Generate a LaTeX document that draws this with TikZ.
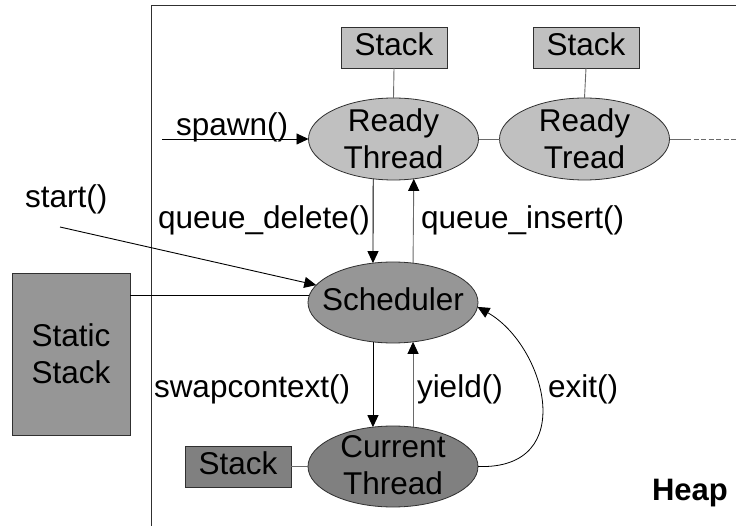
\documentclass[tikz,border=0pt]{standalone}
\usepackage{fontspec}
\setmainfont{Liberation Sans}
\usetikzlibrary{arrows.meta,shapes.geometric}
\definecolor{lightg}{HTML}{C0C0C0}
\definecolor{midg}{HTML}{969696}
\definecolor{darkg}{HTML}{808080}
\definecolor{edgeg}{HTML}{303030}
\definecolor{lineg}{HTML}{6A6A6A}
\begin{document}
\begin{tikzpicture}[x=1pt,y=-1pt,
  every node/.style={font=\fontsize{31.5}{37}\selectfont, inner sep=0pt, outer sep=0pt},
  thread/.style={ellipse, draw=edgeg, line width=0.8pt, minimum width=170pt, minimum height=82pt},
  stackbox/.style={rectangle, draw=edgeg, line width=0.8pt, minimum width=106pt, minimum height=41pt, text depth=6.5pt},
  lbl/.style={anchor=base west},
  arr/.style={-{Triangle[length=12pt,width=11pt,black]}, line width=0.9pt},
  conn/.style={draw=lineg, line width=0.9pt}]
\useasboundingbox (0,0) rectangle (736,526);
\fill[white] (0,0) rectangle (736,526);
% heap frame
\coordinate (hb) at (151.5,526);
\coordinate (htl) at (151.5,5);
\coordinate (htr) at (736,5);
\draw[draw=edgeg, line width=0.8pt] (hb) -- (htl) -- (htr);
% nodes
\node[stackbox, fill=lightg] (s1) at (394,47.5) {Stack};
\node[stackbox, fill=lightg] (s2) at (586,47.5) {Stack};
\node[thread, fill=lightg, label={[align=center]center:Ready\\Thread}] (r1) at (393.5,139) {};
\node[thread, fill=lightg, label={[align=center]center:Ready\\Tread}] (r2) at (584.5,139) {};
\node[thread, minimum height=81pt, fill=midg, label={[yshift=3pt]center:Scheduler}] (sch) at (393,302.5) {};
\node[thread, minimum height=81pt, fill=darkg, label={[align=center,yshift=1pt]center:Current\\Thread}] (cur) at (393,466.5) {};
\node[stackbox, fill=darkg] (sb) at (238,466.5) {Stack};
\node[rectangle, draw=edgeg, line width=0.8pt, fill=midg, minimum width=118pt, minimum height=162pt, align=center] (static) at (71,354) {Static\\Stack};
\node[lbl, font=\fontsize{31}{37}\selectfont\bfseries] (heap) at (652,500) {Heap};
% labels
\node[lbl] (spawnl) at (176,135.5) {spawn()};
\node[lbl] (startl) at (25,208) {start()};
\node[lbl] (qdl) at (158,229) {queue\_delete()};
\node[lbl] (qil) at (421,229) {queue\_insert()};
\node[lbl] (swl) at (154,397) {swapcontext()};
\node[lbl] (yl) at (417,397) {yield()};
\node[lbl] (exl) at (548,397) {exit()};
% connectors
\draw[conn] (s1.south) -- (r1.north);
\draw[conn] (s2.south) -- (r2.north);
\draw[conn] (r1.east) -- (r2.west);
\coordinate (dashs) at (686,139);
\coordinate (dashe) at (736,139);
\draw[conn] (r2.east) -- (dashs);
\draw[conn, dash pattern=on 5pt off 2.5pt] (dashs) -- (dashe);
\coordinate (spawnp) at (162,139);
\draw[arr] (spawnp) -- (r1.west);
\coordinate (startp) at (60,227);
\draw[arr] (startp) -- (sch);
\draw[line width=0.9pt] (sch.175 -| static.east) -- (sch.175);
\draw[arr] (r1.243) -- (sch.117);
\draw[arr, draw=lineg] (sch.63) -- (r1.297);
\draw[arr] (sch.243) -- (cur.117);
\draw[arr, draw=lineg] (cur.63) -- (sch.297);
\draw[conn] (sb.east) -- (cur.west);
\draw[arr, line width=0.8pt] (cur.east) .. controls (580,470) and (545,345) .. (sch.357);
\end{tikzpicture}
\end{document}
